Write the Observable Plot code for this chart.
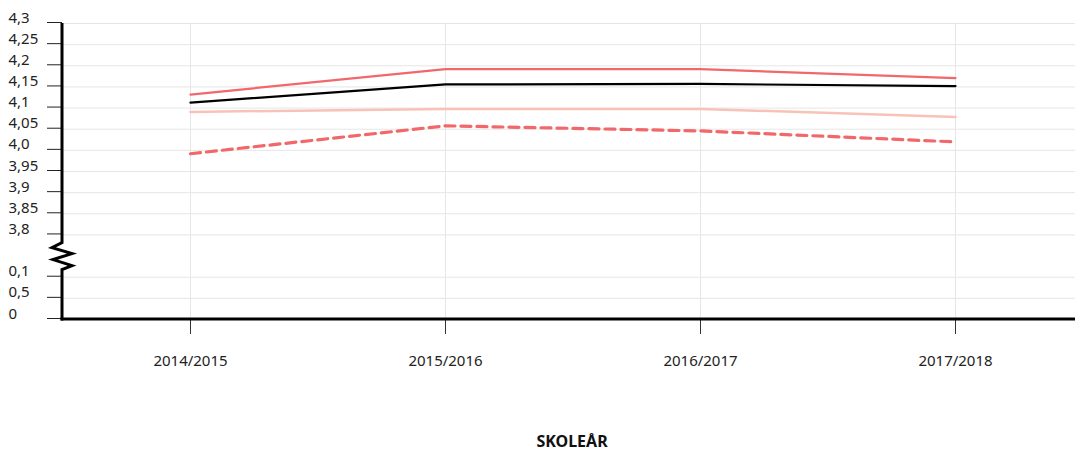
<!DOCTYPE html>
<html>
<head>
<meta charset="utf-8">
<script src="https://cdn.jsdelivr.net/npm/d3@7"></script>
<script src="https://cdn.jsdelivr.net/npm/@observablehq/plot@0.6"></script>
<style>
  html, body { margin: 0; padding: 0; background: #fff; }
  #chart svg { display: block; }
</style>
</head>
<body>
<div id="chart"></div>
<script>
// ---- data ----
const years = ["2014/2015", "2015/2016", "2016/2017", "2017/2018"];
const seriesRed = [4.132, 4.192, 4.192, 4.171];
const seriesBlack = [4.113, 4.156, 4.157, 4.152];
const seriesPink = [4.091, 4.098, 4.098, 4.079];
const seriesRedDashed = [3.992, 4.058, 4.046, 4.020];

const yTickValues = [0, 0.5, 1, 3.8, 3.85, 3.9, 3.95, 4.0, 4.05, 4.1, 4.15, 4.2, 4.25, 4.3];
const yTickLabels = ["0", "0,5", "0,1", "3,8", "3,85", "3,9", "3,95", "4,0", "4,05", "4,1", "4,15", "4,2", "4,25", "4,3"];
const breakValue = 2.4; // midpoint of the axis break
const xTitle = "SKOLEÅR";

// ---- layout ----
const W = 1075, H = 452;
const marginTop = 23, marginBottom = 133, marginLeft = 62, marginRight = 0;
const yBottom = H - marginBottom;

// piecewise y domain: every tick (plus the break) gets an equal step
const yDomain = [0, 0.5, 1, breakValue, ...yTickValues.slice(3)];
const step = (yBottom - marginTop) / (yDomain.length - 1);
const yRange = yDomain.map((_, i) => yBottom - i * step);

const labelMap = new Map(yTickValues.map((v, i) => [v, yTickLabels[i]]));

function toRows(vals, key) { return years.map((y, i) => ({year: y, value: vals[i], key})); }

const red = "#f2676a", pink = "#f8c2b7";

function brokenAxis(index, scales, values, dimensions) {
  const y = scales.y;
  const x0 = dimensions.marginLeft;
  const yTop = y(yTickValues[yTickValues.length - 1]);
  const yBot = y(0);
  const yb = y(breakValue);
  const zig = [[0, -13], [-10, -8], [10, -2], [-9, 4], [10, 10], [0, 14]];
  let d = `M${x0},${yTop}V${yb - 13}`;
  for (const [dx, dy] of zig.slice(1)) d += `L${x0 + dx},${yb + dy}`;
  d += `V${yBot + 1.5}`;
  const g = d3.create("svg:g");
  g.append("path").attr("d", d).attr("fill", "none").attr("stroke", "#000")
    .attr("stroke-width", 3).attr("stroke-linejoin", "miter");
  g.append("line").attr("x1", x0 - 1.5).attr("x2", dimensions.width)
    .attr("y1", yBot).attr("y2", yBot).attr("stroke", "#000").attr("stroke-width", 3);
  return g.node();
}

const chart = Plot.plot({
  width: W,
  height: H,
  marginTop, marginBottom, marginLeft, marginRight,
  style: {fontFamily: "'Noto Sans', sans-serif", fontSize: "15px", color: "#222", background: "#fff"},
  x: {type: "point", domain: years, range: [61, 1083], padding: 0.5},
  y: {type: "linear", domain: yDomain, range: yRange},
  marks: [
    Plot.ruleY(yTickValues, {y: d => d, stroke: "#e6e6e6", strokeWidth: 1}),
    Plot.ruleX(years, {x: d => d, y1: 0, y2: 4.3, stroke: "#e6e6e6", strokeWidth: 1}),
    Plot.axisY(yTickValues, {
      tickSize: 15, tickPadding: 39, textAnchor: "start", lineAnchor: "bottom", dy: -1,
      tickFormat: d => labelMap.get(d), stroke: "#222", fill: "#222", fontSize: 15, label: null
    }),
    Plot.axisX({tickSize: 15, tickPadding: 21, stroke: "#333", fill: "#222", fontSize: 15, label: null}),
    Plot.line(toRows(seriesPink, "pink"), {x: "year", y: "value", stroke: pink, strokeWidth: 2.5}),
    Plot.line(toRows(seriesRedDashed, "dashed"), {x: "year", y: "value", stroke: red, strokeWidth: 3.2, strokeDasharray: "10,6"}),
    Plot.line(toRows(seriesBlack, "black"), {x: "year", y: "value", stroke: "#000", strokeWidth: 2.2}),
    Plot.line(toRows(seriesRed, "red"), {x: "year", y: "value", stroke: red, strokeWidth: 2.2}),
    brokenAxis,
    Plot.text([xTitle], {frameAnchor: "bottom", dy: 122, dx: 3, lineAnchor: "middle", fontWeight: "bold", fontSize: 16, fill: "#111", text: d => d})
  ]
});
document.getElementById("chart").appendChild(chart);
</script>
</body>
</html>
